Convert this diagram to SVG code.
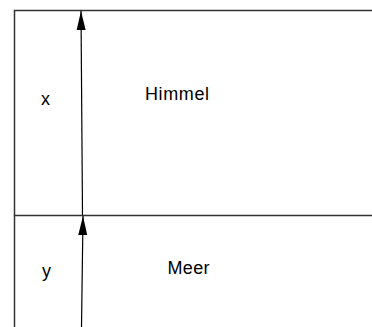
<svg xmlns="http://www.w3.org/2000/svg" width="372" height="327" viewBox="0 0 372 327">
<style>
.frame{stroke:#333;stroke-width:1.5;fill:none}
.conn{stroke:#000;stroke-width:1.2;fill:none;marker-end:url(#ah)}
text{font-family:"Liberation Sans",Arial,sans-serif;font-size:18px;fill:#000}
</style>
<defs>
<marker id="ah" markerUnits="userSpaceOnUse" markerWidth="20" markerHeight="10" viewBox="0 0 20 10" refX="19" refY="5" orient="auto">
<path d="M0,0.5 L19,5 L0,9.5 Z" fill="#000"/>
</marker>
</defs>
<rect width="372" height="327" fill="#fff"/>
<g id="himmel">
<path class="frame" d="M372,10.5 H14.5 V215.5 H372"/>
<text x="41" y="105">x</text>
<text x="145" y="100" textLength="64">Himmel</text>
</g>
<g id="meer">
<path class="frame" d="M14.5,215.5 V327"/>
<text x="42" y="277">y</text>
<text x="167.5" y="274" textLength="42">Meer</text>
</g>
<g id="connectors">
<line class="conn" x1="82.5" y1="215" x2="81" y2="11"/>
<line class="conn" x1="81.5" y1="327" x2="83" y2="216"/>
</g>
</svg>
